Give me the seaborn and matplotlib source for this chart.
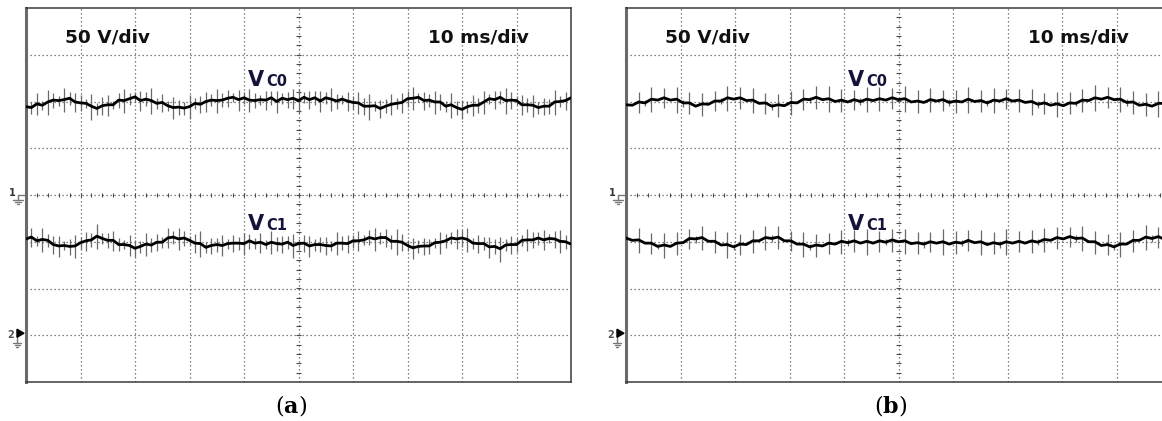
import numpy as np
import pandas as pd
import matplotlib
matplotlib.use("Agg")
import matplotlib.pyplot as plt
import seaborn as sns

# ---------------- data (div units) ----------------
# panel (a): 101 samples over 10 divisions
a_vc0 = [1.87,1.88,1.92,1.94,1.99,2.01,2.05,2.03,2.04,2.00,
         1.99,1.94,1.90,1.88,1.89,1.92,1.95,2.00,2.03,2.06,
         2.08,2.05,2.04,2.00,1.98,1.95,1.91,1.88,1.86,1.89,
         1.88,1.93,1.96,2.00,2.01,2.03,2.06,2.05,2.08,2.06,
         2.05,2.03,2.04,2.02,2.04,2.05,2.03,2.06,2.04,2.05,
         2.04,2.06,2.05,2.07,2.04,2.06,2.05,2.03,2.02,2.00,
         1.99,1.95,1.93,1.90,1.88,1.87,1.89,1.92,1.97,2.01,
         2.04,2.07,2.06,2.04,2.02,2.00,1.97,1.93,1.90,1.87,
         1.85,1.88,1.90,1.95,1.99,2.03,2.05,2.07,2.04,2.02,
         1.99,1.96,1.93,1.90,1.88,1.89,1.92,1.96,2.00,2.04,2.07]
a_vc0_jit = [0.02,-0.01,0.03,-0.02,0.00,0.02,-0.03,0.01,0.03,-0.01,
             -0.02,0.02,0.00,-0.03,0.02,0.01,-0.02,0.03,-0.01,0.00,
             0.02,-0.03,0.01,0.02,-0.02,0.03,0.00,-0.01,0.02,-0.03,
             0.01,0.03,-0.02,0.00,0.02,-0.01,-0.03,0.02,0.01,-0.02,
             0.03,0.00,-0.02,0.02,-0.01,0.03,-0.03,0.01,0.00,0.02,
             -0.02,0.03,-0.01,0.01,-0.03,0.02,0.00,-0.02,0.03,0.01,
             -0.01,0.02,-0.03,0.00,0.03,-0.02,0.01,0.02,-0.01,-0.03,
             0.02,0.00,0.03,-0.02,0.01,-0.01,0.02,-0.03,0.03,0.00,
             -0.02,0.01,0.02,-0.03,0.00,0.03,-0.01,0.02,-0.02,0.01,
             0.03,-0.03,0.00,0.02,-0.01,0.01,-0.02,0.03,0.00,-0.02,0.01]
a_vc0_spk = [0.30,0.20,0.38,0.15,0.42,0.25,0.18,0.40,0.22,0.33,
             0.28,0.16,0.44,0.20,0.30,0.36,0.14,0.26,0.40,0.22,
             0.18,0.34,0.24,0.45,0.20,0.30,0.16,0.38,0.26,0.22,
             0.40,0.18,0.28,0.34,0.20,0.42,0.24,0.30,0.16,0.36,
             0.22,0.40,0.26,0.18,0.32,0.24,0.38,0.20,0.28,0.34,
             0.42,0.18,0.30,0.24,0.36,0.20,0.40,0.26,0.16,0.32,
             0.22,0.38,0.28,0.44,0.18,0.30,0.24,0.36,0.20,0.34,
             0.26,0.40,0.16,0.30,0.22,0.38,0.28,0.18,0.42,0.24,
             0.32,0.20,0.36,0.26,0.40,0.18,0.30,0.22,0.44,0.28,
             0.16,0.34,0.24,0.38,0.20,0.30,0.26,0.42,0.18,0.32,0.36]
a_vc1 = [-0.93,-0.92,-0.95,-0.96,-1.00,-1.04,-1.09,-1.10,-1.09,-1.06,
         -1.04,-0.99,-0.94,-0.91,-0.93,-0.96,-0.99,-1.03,-1.07,-1.10,
         -1.12,-1.10,-1.08,-1.06,-1.02,-0.98,-0.94,-0.90,-0.92,-0.95,
         -0.98,-1.02,-1.06,-1.09,-1.08,-1.09,-1.06,-1.05,-1.05,-1.02,
         -1.01,-1.00,-1.03,-1.02,-1.04,-1.04,-1.03,-1.05,-1.03,-1.05,
         -1.05,-1.06,-1.07,-1.06,-1.08,-1.07,-1.06,-1.05,-1.04,-1.02,
         -1.01,-0.98,-0.95,-0.93,-0.91,-0.92,-0.94,-0.97,-0.99,-1.03,
         -1.07,-1.10,-1.12,-1.10,-1.07,-1.05,-1.01,-0.97,-0.94,-0.91,
         -0.93,-0.97,-1.01,-1.04,-1.07,-1.10,-1.11,-1.12,-1.09,-1.06,
         -1.04,-1.00,-0.97,-0.95,-0.94,-0.93,-0.93,-0.96,-0.98,-1.01,-1.03]
a_vc1_jit = [-0.01,0.02,-0.03,0.01,0.03,-0.02,0.00,0.02,-0.01,-0.03,
             0.02,0.01,-0.02,0.03,0.00,-0.01,0.02,-0.03,0.01,0.02,
             -0.02,0.00,0.03,-0.01,0.01,-0.03,0.02,0.00,-0.02,0.03,
             0.01,-0.01,0.02,-0.03,0.00,0.03,-0.02,0.01,0.02,-0.01,
             -0.03,0.02,0.00,0.01,-0.02,0.03,-0.01,0.00,0.02,-0.03,
             0.01,0.03,-0.02,0.00,0.02,-0.01,-0.03,0.02,0.01,-0.02,
             0.03,0.00,-0.01,0.02,-0.03,0.01,0.03,-0.02,0.00,0.02,
             -0.01,-0.03,0.02,0.01,-0.02,0.03,0.00,-0.01,0.02,-0.03,
             0.01,0.02,-0.02,0.00,0.03,-0.01,0.01,-0.03,0.02,0.00,
             -0.02,0.03,0.01,-0.01,0.02,-0.03,0.00,0.02,-0.01,0.01,-0.02]
a_vc1_spk = [0.26,0.34,0.18,0.40,0.22,0.30,0.36,0.16,0.28,0.38,
             0.20,0.32,0.24,0.42,0.18,0.26,0.34,0.22,0.16,0.36,
             0.30,0.20,0.40,0.24,0.28,0.18,0.34,0.22,0.38,0.26,
             0.16,0.32,0.44,0.20,0.28,0.24,0.36,0.18,0.30,0.22,
             0.38,0.26,0.20,0.34,0.16,0.40,0.24,0.30,0.22,0.42,
             0.18,0.28,0.36,0.20,0.26,0.32,0.16,0.38,0.24,0.30,
             0.22,0.34,0.18,0.26,0.40,0.20,0.32,0.24,0.44,0.28,
             0.18,0.36,0.22,0.30,0.26,0.16,0.38,0.24,0.20,0.34,
             0.28,0.40,0.18,0.30,0.22,0.36,0.26,0.42,0.20,0.32,
             0.24,0.18,0.38,0.28,0.22,0.34,0.16,0.30,0.40,0.24,0.28]

# panel (b): 87 samples over 10 divisions (spikes every second sample)
b_vc0 = [1.93,1.92,1.99,1.97,2.05,2.03,2.08,2.03,2.05,1.97,
         1.97,1.90,1.95,1.94,2.01,2.01,2.08,2.05,2.08,2.02,
         2.03,1.96,1.97,1.90,1.93,1.91,1.98,1.97,2.05,2.04,
         2.09,2.04,2.06,2.00,2.03,1.99,2.04,2.00,2.05,2.02,
         2.06,2.03,2.08,2.04,2.06,1.99,2.01,1.98,2.04,2.01,
         2.04,1.98,2.01,1.99,2.05,2.00,2.02,1.97,2.03,2.01,
         2.06,2.01,2.03,1.98,2.00,1.94,1.97,1.92,1.95,1.91,
         1.97,1.96,2.03,2.02,2.08,2.05,2.09,2.04,2.05,1.98,
         1.99,1.92,1.94,1.90,1.96,1.96,2.03]
b_vc0_spk = [0.40,0.00,0.36,0.10,0.42,0.00,0.34,0.00,0.44,0.12,
             0.38,0.00,0.40,0.00,0.34,0.10,0.42,0.00,0.38,0.00,
             0.44,0.00,0.36,0.12,0.40,0.00,0.42,0.00,0.36,0.10,
             0.40,0.00,0.44,0.00,0.38,0.00,0.34,0.12,0.42,0.00,
             0.40,0.00,0.36,0.10,0.44,0.00,0.38,0.00,0.42,0.00,
             0.36,0.12,0.40,0.00,0.44,0.00,0.38,0.10,0.42,0.00,
             0.34,0.00,0.40,0.00,0.44,0.12,0.36,0.00,0.42,0.00,
             0.38,0.10,0.40,0.00,0.44,0.00,0.36,0.00,0.42,0.12,
             0.38,0.00,0.40,0.00,0.44,0.00,0.36]
b_vc1 = [-0.92,-0.97,-0.96,-1.03,-1.03,-1.10,-1.07,-1.10,-1.03,-1.02,
         -0.93,-0.94,-0.91,-0.99,-0.99,-1.07,-1.06,-1.11,-1.05,-1.06,
         -0.98,-0.98,-0.91,-0.93,-0.90,-0.98,-0.98,-1.05,-1.05,-1.11,
         -1.07,-1.09,-1.03,-1.05,-0.99,-1.02,-0.98,-1.03,-0.99,-1.03,
         -0.98,-1.01,-0.96,-1.00,-0.98,-1.04,-1.02,-1.05,-1.00,-1.03,
         -1.00,-1.05,-1.01,-1.03,-0.97,-1.02,-1.00,-1.06,-1.02,-1.05,
         -1.00,-1.03,-0.99,-1.03,-0.98,-1.01,-0.95,-0.97,-0.91,-0.94,
         -0.89,-0.93,-0.92,-1.00,-1.00,-1.08,-1.06,-1.11,-1.05,-1.05,
         -0.97,-0.97,-0.90,-0.93,-0.89,-0.95,-0.93]
b_vc1_spk = [0.38,0.00,0.42,0.00,0.36,0.10,0.44,0.00,0.40,0.00,
             0.34,0.12,0.42,0.00,0.38,0.00,0.44,0.10,0.36,0.00,
             0.40,0.00,0.42,0.12,0.38,0.00,0.34,0.00,0.44,0.10,
             0.40,0.00,0.36,0.00,0.42,0.12,0.38,0.00,0.44,0.00,
             0.36,0.10,0.40,0.00,0.42,0.00,0.38,0.12,0.34,0.00,
             0.44,0.00,0.40,0.10,0.36,0.00,0.42,0.00,0.38,0.12,
             0.44,0.00,0.36,0.00,0.40,0.10,0.42,0.00,0.38,0.00,
             0.34,0.12,0.44,0.00,0.40,0.00,0.36,0.10,0.42,0.00,
             0.38,0.00,0.44,0.12,0.36,0.00,0.40]

volts_label = "50 V/div"
time_label = "10 ms/div"
captions = ["a", "b"]

# ---------------- style ----------------
sns.set_style("white")
plt.rcParams["font.family"] = ["DejaVu Sans"]
plt.rcParams["mathtext.fontset"] = "custom"
plt.rcParams["mathtext.rm"] = "DejaVu Serif"
plt.rcParams["mathtext.bf"] = "DejaVu Serif:bold"

W, H = 1162, 421
fig = plt.figure(figsize=(W / 100, H / 100), dpi=100)
fig.patch.set_facecolor("white")

GRID = "#5a5a5a"
SPIKE = "#6a6a6a"
SPIKE_SCALE = 1.25


def draw_panel(left_px, traces, caption):
    ax = fig.add_axes([left_px / W, (H - 382) / H, 545 / W, 374 / H])
    ax.set_xlim(0, 10)
    ax.set_ylim(-4, 4)
    ax.set_xticks([])
    ax.set_yticks([])
    ax.set_facecolor("white")
    for s in ["top", "bottom", "right"]:
        ax.spines[s].set_color("#3a3a3a")
        ax.spines[s].set_linewidth(1.1)
    ax.spines["left"].set_color("#6a6a6a")
    ax.spines["left"].set_linewidth(2.2)

    # dotted graticule
    for i in range(1, 10):
        ax.axvline(i, color=GRID, lw=0.9, ls=(0, (1, 2.2)), zorder=1)
    for j in range(-3, 4):
        ax.axhline(j, color=GRID, lw=0.9, ls=(0, (1, 2.2)), zorder=1)
    # centre crosshair minor ticks
    tx = np.arange(0.2, 10, 0.2)
    ax.vlines(tx, -0.05, 0.05, color="#4a4a4a", lw=0.8, zorder=1)
    ty = np.arange(-3.8, 4, 0.2)
    ax.hlines(ty, 5 - 0.042, 5 + 0.042, color="#4a4a4a", lw=0.8, zorder=1)

    # traces
    for vals, jit, spk in traces:
        t = np.linspace(0, 10, len(vals))
        v = np.array(vals) + (np.array(jit) if jit is not None else 0.0)
        s = np.array(spk) * SPIKE_SCALE
        m = s > 0
        ax.vlines(t[m], v[m] - 0.52 * s[m], v[m] + 0.48 * s[m],
                  color=SPIKE, lw=0.9, zorder=2)
        df = pd.DataFrame({"t": t, "v": v})
        sns.lineplot(data=df, x="t", y="v", ax=ax, color="black", lw=2.0,
                     estimator=None, sort=False, zorder=3)
    ax.set_xlabel("")
    ax.set_ylabel("")

    # text labels
    ax.text(0.716, 3.27, volts_label, fontsize=13.3, fontweight="bold",
            color="#111111", ha="left", va="baseline")
    ax.text(7.38, 3.27, time_label, fontsize=13.3, fontweight="bold",
            color="#111111", ha="left", va="baseline")
    for yb, sub in [(2.33, "C0"), (-0.75, "C1")]:
        ax.text(4.07, yb, "V", fontsize=15, fontweight="bold",
                color="#14143a", ha="left", va="baseline", zorder=5)
        ax.text(4.40, yb, sub, fontsize=10.5, fontweight="bold",
                color="#14143a", ha="left", va="baseline", zorder=5)

    # channel ground markers
    px = 1 / 54.5
    py = 1 / 46.75
    gx = -8 * px
    ax.plot([gx, 0], [0, 0], color="#777777", lw=1.0, clip_on=False)
    ax.plot([gx, gx], [0, -5 * py], color="#777777", lw=1.0, clip_on=False)
    for k, half in enumerate([5, 3, 1]):
        yy = -5 * py - 2 * k * py
        ax.plot([gx - half * px, gx + half * px], [yy, yy], color="#777777",
                lw=1.0, clip_on=False)
    ax.text(-14 * px, 2 * py, "1", fontsize=7, fontweight="bold",
            color="#333333", ha="center", va="center")
    # channel 2 marker
    y2 = -3 + 2 * py
    ax.fill([-9 * px, -9 * px, -2 * px], [y2 + 4 * py, y2 - 4 * py, y2],
            color="black", clip_on=False, zorder=6)
    ax.plot([-9 * px, -9 * px], [y2 + 4 * py, y2 - 10 * py], color="#777777",
            lw=1.0, clip_on=False)
    for k, half in enumerate([4, 2.5, 1]):
        yy = y2 - 10 * py - 2 * k * py
        ax.plot([-9 * px - half * px, -9 * px + half * px], [yy, yy],
                color="#777777", lw=1.0, clip_on=False)
    ax.text(-15 * px, y2 - 2 * py, "2", fontsize=7, fontweight="bold",
            color="#555555", ha="center", va="center")

    # caption
    cx = (left_px + 265) / W
    fig.text(cx, 1 - 406 / H, r"$\mathrm{(}\mathbf{" + caption + r"}\mathrm{)}$",
             fontsize=16, ha="center", va="center", color="black")
    return ax


draw_panel(26, [(a_vc0, a_vc0_jit, a_vc0_spk), (a_vc1, a_vc1_jit, a_vc1_spk)], captions[0])
draw_panel(626, [(b_vc0, None, b_vc0_spk), (b_vc1, None, b_vc1_spk)], captions[1])

fig.savefig("out.png", dpi=100, facecolor="white")
